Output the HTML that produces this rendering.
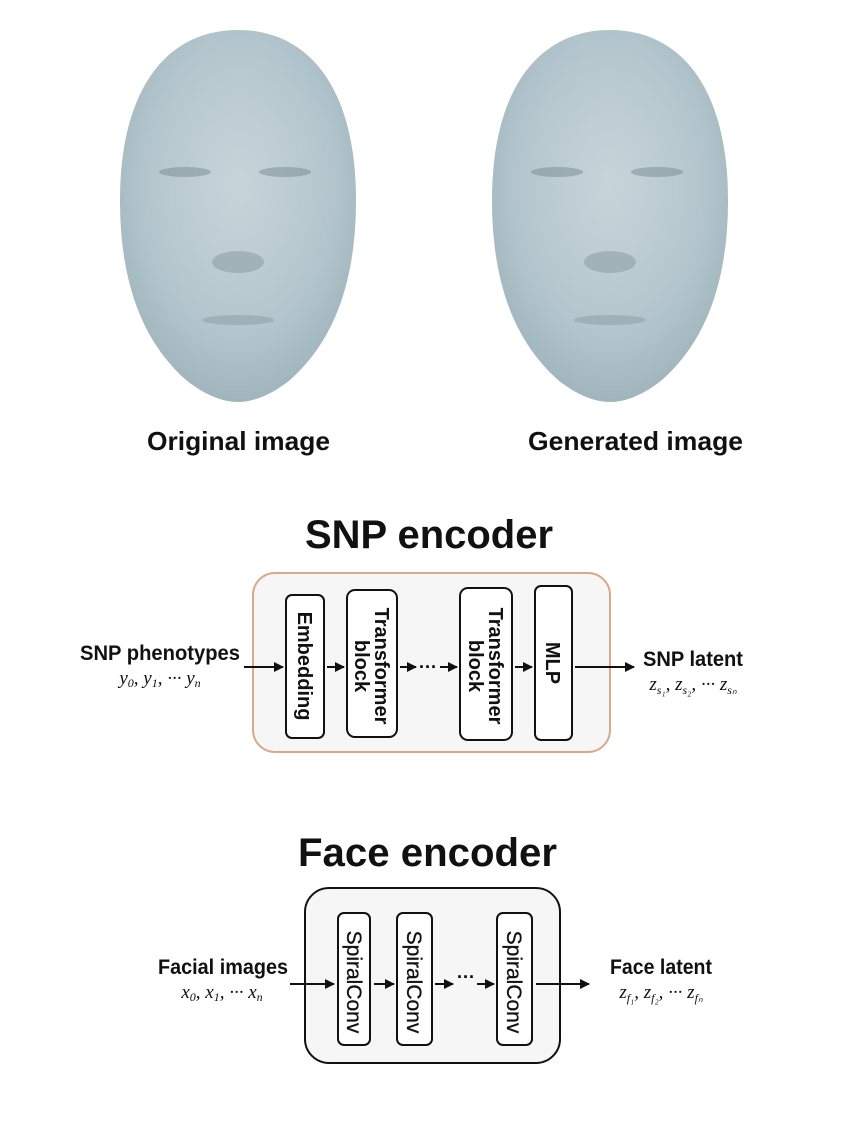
<!DOCTYPE html>
<html><head><meta charset="utf-8"><style>
html,body{margin:0;padding:0;background:#fff;}
svg{display:block}
</style></head><body>
<svg width="860" height="1126" viewBox="0 0 860 1126" xmlns="http://www.w3.org/2000/svg" font-family="Liberation Sans, Arial, sans-serif">
<defs>
<radialGradient id="fg" cx="0.5" cy="0.42" r="0.62">
<stop offset="0" stop-color="#c7d5da"/>
<stop offset="0.65" stop-color="#b3c5cc"/>
<stop offset="1" stop-color="#9cb1ba"/>
</radialGradient>
<marker id="ah" viewBox="0 0 10 10" refX="9" refY="5" markerWidth="5" markerHeight="5" orient="auto"><path d="M0,0 L10,5 L0,10 z" fill="#111"/></marker>
<g id="face">
<path d="M118,0 C190,0 236,60 236,170 C236,250 215,310 170,350 C150,366 132,372 118,372 C104,372 86,366 66,350 C21,310 0,250 0,170 C0,60 46,0 118,0 Z" fill="url(#fg)"/>
<ellipse cx="65" cy="142" rx="26" ry="5" fill="#7d8f97" opacity="0.55"/>
<ellipse cx="165" cy="142" rx="26" ry="5" fill="#7d8f97" opacity="0.55"/>
<ellipse cx="118" cy="232" rx="26" ry="11" fill="#8a9ca4" opacity="0.55"/>
<ellipse cx="118" cy="290" rx="36" ry="5" fill="#8a9ca4" opacity="0.5"/>
</g>
</defs>
<use href="#face" x="120" y="30"/>
<use href="#face" x="492" y="30"/>
<text x="147" y="450" font-size="26" font-weight="bold" textLength="183" lengthAdjust="spacingAndGlyphs" fill="#111">Original image</text>
<text x="528" y="450" font-size="26" font-weight="bold" textLength="215" lengthAdjust="spacingAndGlyphs" fill="#111">Generated image</text>

<text x="305" y="548" font-size="40" font-weight="bold" textLength="248" lengthAdjust="spacingAndGlyphs" fill="#111">SNP encoder</text>
<rect x="253" y="573" width="357" height="179" rx="22" fill="#f6f6f7" stroke="#d9a98a" stroke-width="2"/>
<g fill="#fff" stroke="#111" stroke-width="2">
<rect x="286" y="595" width="38" height="143" rx="6"/>
<rect x="347" y="590" width="50" height="147" rx="8"/>
<rect x="460" y="588" width="52" height="152" rx="8"/>
<rect x="535" y="586" width="37" height="154" rx="6"/>
</g>
<g font-size="20" font-weight="bold" fill="#111" text-anchor="middle">
<text transform="translate(305,666) rotate(90)" dy="7">Embedding</text>
<text transform="translate(372,666) rotate(90)" dy="-3">Transformer</text>
<text transform="translate(372,666) rotate(90)" dy="17">block</text>
<text transform="translate(486,666) rotate(90)" dy="-3">Transformer</text>
<text transform="translate(486,666) rotate(90)" dy="17">block</text>
<text transform="translate(553,663) rotate(90)" dy="7">MLP</text>
</g>
<g stroke="#111" stroke-width="2" marker-end="url(#ah)">
<line x1="244" y1="667" x2="283" y2="667"/>
<line x1="327" y1="667" x2="344" y2="667"/>
<line x1="400" y1="667" x2="416" y2="667"/>
<line x1="440" y1="667" x2="457" y2="667"/>
<line x1="515" y1="667" x2="532" y2="667"/>
<line x1="575" y1="667" x2="634" y2="667"/>
</g>
<text x="428" y="673" font-size="18" font-weight="bold" text-anchor="middle">···</text>
<text x="80" y="660" font-size="21" font-weight="bold" textLength="160" lengthAdjust="spacingAndGlyphs" fill="#111">SNP phenotypes</text>
<text x="160" y="684" font-size="19" font-style="italic" font-family="Liberation Serif, serif" text-anchor="middle" fill="#111">y<tspan font-size="12" dy="3">0</tspan><tspan dy="-3">, y</tspan><tspan font-size="12" dy="3">1</tspan><tspan dy="-3">, ··· y</tspan><tspan font-size="12" dy="3">n</tspan></text>
<text x="643" y="666" font-size="21" font-weight="bold" textLength="100" lengthAdjust="spacingAndGlyphs" fill="#111">SNP latent</text>
<text x="693" y="690" font-size="19" font-style="italic" font-family="Liberation Serif, serif" text-anchor="middle" fill="#111">z<tspan font-size="12" dy="4">s₁</tspan><tspan dy="-4">, z</tspan><tspan font-size="12" dy="4">s₂</tspan><tspan dy="-4">, ··· z</tspan><tspan font-size="12" dy="4">sₙ</tspan></text>

<text x="298" y="866" font-size="40" font-weight="bold" textLength="259" lengthAdjust="spacingAndGlyphs" fill="#111">Face encoder</text>
<rect x="305" y="888" width="255" height="175" rx="24" fill="#f6f6f7" stroke="#111" stroke-width="2"/>
<g fill="#fff" stroke="#111" stroke-width="2">
<rect x="338" y="913" width="32" height="132" rx="6"/>
<rect x="397" y="913" width="35" height="132" rx="6"/>
<rect x="497" y="913" width="35" height="132" rx="6"/>
</g>
<g font-size="21" fill="#111" text-anchor="middle" stroke="#111" stroke-width="0.3">
<text transform="translate(354,982) rotate(90)" dy="7">SpiralConv</text>
<text transform="translate(414,982) rotate(90)" dy="7">SpiralConv</text>
<text transform="translate(514,982) rotate(90)" dy="7">SpiralConv</text>
</g>
<g stroke="#111" stroke-width="2" marker-end="url(#ah)">
<line x1="290" y1="984" x2="334" y2="984"/>
<line x1="374" y1="984" x2="394" y2="984"/>
<line x1="435" y1="984" x2="453" y2="984"/>
<line x1="477" y1="984" x2="494" y2="984"/>
<line x1="536" y1="984" x2="589" y2="984"/>
</g>
<text x="466" y="983" font-size="18" font-weight="bold" text-anchor="middle">···</text>
<text x="158" y="974" font-size="21" font-weight="bold" textLength="130" lengthAdjust="spacingAndGlyphs" fill="#111">Facial images</text>
<text x="222" y="998" font-size="19" font-style="italic" font-family="Liberation Serif, serif" text-anchor="middle" fill="#111">x<tspan font-size="12" dy="3">0</tspan><tspan dy="-3">, x</tspan><tspan font-size="12" dy="3">1</tspan><tspan dy="-3">, ··· x</tspan><tspan font-size="12" dy="3">n</tspan></text>
<text x="610" y="974" font-size="21" font-weight="bold" textLength="102" lengthAdjust="spacingAndGlyphs" fill="#111">Face latent</text>
<text x="661" y="998" font-size="19" font-style="italic" font-family="Liberation Serif, serif" text-anchor="middle" fill="#111">z<tspan font-size="12" dy="4">f₁</tspan><tspan dy="-4">, z</tspan><tspan font-size="12" dy="4">f₂</tspan><tspan dy="-4">, ··· z</tspan><tspan font-size="12" dy="4">fₙ</tspan></text>
</svg>
</body></html>
